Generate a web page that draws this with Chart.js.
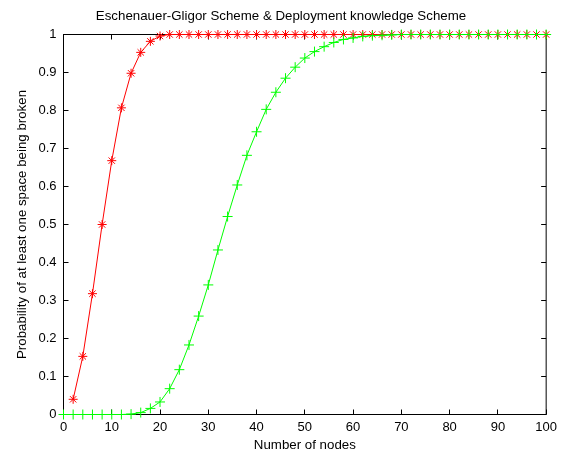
<!DOCTYPE html>
<html>
<head>
<meta charset="utf-8">
<script src="https://cdn.jsdelivr.net/npm/chart.js@4/dist/chart.umd.min.js"></script>
<style>
html,body{margin:0;padding:0;background:#fff;}
#wrap{width:562px;height:453px;}
</style>
</head>
<body>
<div id="wrap"><canvas id="c" width="562" height="453"></canvas></div>
<script>
const titleText = "Eschenauer-Gligor Scheme & Deployment knowledge Scheme";
const xTitle = "Number of nodes";
const yTitle = "Probability of at least one space being broken";

const redNodes = [2,4,6,8,10,12,14,16,18,20,22,24,26,28,30,32,34,36,38,40,42,44,46,48,50,52,54,56,58,60,62,64,66,68,70,72,74,76,78,80,82,84,86,88,90,92,94,96,98,100];
const redProb = [0.04,0.153,0.318,0.5,0.668,0.807,0.898,0.953,0.982,0.996,1,1,1,1,1,1,1,1,1,1,1,1,1,1,1,1,1,1,1,1,1,1,1,1,1,1,1,1,1,1,1,1,1,1,1,1,1,1,1,1];

const greenNodes = [0,2,4,6,8,10,12,14,16,18,20,22,24,26,28,30,32,34,36,38,40,42,44,46,48,50,52,54,56,58,60,62,64,66,68,70,72,74,76,78,80,82,84,86,88,90,92,94,96,98,100];
const greenProb = [0,0,0,0,0,0,0,0.001,0.005,0.016,0.033,0.068,0.118,0.183,0.259,0.341,0.433,0.521,0.604,0.682,0.744,0.803,0.848,0.885,0.914,0.938,0.955,0.968,0.979,0.987,0.991,0.995,0.997,0.998,0.999,1,1,1,1,1,1,1,1,1,1,1,1,1,1,1,1];

const xTicks = [0,10,20,30,40,50,60,70,80,90,100];
const yTicks = [0,0.1,0.2,0.3,0.4,0.5,0.6,0.7,0.8,0.9,1];

const FONT = "'Liberation Sans', Arial, sans-serif";
const FS = 13.3;

const boxPlugin = {
  id: 'box',
  beforeDatasetsDraw(chart) {
    const {ctx, chartArea: a, scales} = chart;
    ctx.save();
    ctx.strokeStyle = '#000';
    ctx.lineWidth = 1;
    ctx.beginPath();
    const L = 5;
    xTicks.forEach(v => {
      const px = Math.floor(scales.x.getPixelForValue(v)) + 0.5;
      ctx.moveTo(px, a.bottom); ctx.lineTo(px, a.bottom - L);
      ctx.moveTo(px, a.top); ctx.lineTo(px, a.top + L);
    });
    yTicks.forEach(v => {
      const py = Math.floor(scales.y.getPixelForValue(v)) + 0.5;
      ctx.moveTo(a.left, py); ctx.lineTo(a.left + L, py);
      ctx.moveTo(a.right, py); ctx.lineTo(a.right - L, py);
    });
    ctx.stroke();
    ctx.strokeRect(a.left, a.top, a.right - a.left, a.bottom - a.top);
    ctx.restore();
  }
};

new Chart(document.getElementById('c'), {
  type: 'line',
  data: {
    datasets: [
      {
        label: 'Eschenauer-Gligor',
        data: redNodes.map((n, i) => ({x: n, y: redProb[i]})),
        order: 1,
        borderColor: '#ff0000',
        backgroundColor: '#ff0000',
        borderWidth: 1,
        pointStyle: 'star',
        pointRadius: 4.5,
        pointBorderWidth: 1,
        pointBorderColor: '#ff0000',
        tension: 0,
        clip: false
      },
      {
        label: 'Deployment knowledge',
        data: greenNodes.map((n, i) => ({x: n, y: greenProb[i]})),
        order: 0,
        borderColor: '#00ff00',
        backgroundColor: '#00ff00',
        borderWidth: 1,
        pointStyle: 'cross',
        pointRadius: 5,
        pointBorderWidth: 1,
        pointBorderColor: '#00ff00',
        tension: 0,
        clip: false
      }
    ]
  },
  options: {
    responsive: false,
    animation: false,
    layout: {padding: {left: 0, right: 0, top: 0, bottom: 0}},
    plugins: {
      legend: {display: false},
      tooltip: {enabled: false},
      title: {
        display: true,
        text: titleText,
        color: '#000',
        font: {family: FONT, size: FS, weight: 'normal', lineHeight: '16px'},
        padding: {top: 8, bottom: 10.5}
      }
    },
    scales: {
      x: {
        type: 'linear',
        min: 0, max: 100,
        afterBuildTicks: s => { s.ticks = xTicks.map(v => ({value: v})); },
        afterFit: s => { s.height = 38.5; },
        grid: {display: false, drawTicks: false},
        border: {display: false},
        ticks: {color: '#000', padding: 5, maxRotation: 0, font: {family: FONT, size: 13}},
        title: {display: true, text: xTitle, color: '#000', font: {family: FONT, size: FS}, padding: {top: 0, bottom: 0}}
      },
      y: {
        type: 'linear',
        min: 0, max: 1,
        afterBuildTicks: s => { s.ticks = yTicks.map(v => ({value: v})); },
        afterFit: s => { s.width = 63.5; },
        grid: {display: false, drawTicks: false},
        border: {display: false},
        ticks: {color: '#000', padding: 7, font: {family: FONT, size: 13},
          callback: v => String(Math.round(v * 10) / 10)},
        title: {display: true, text: yTitle, color: '#000', font: {family: FONT, size: FS}, padding: {top: 14.5, bottom: 0}}
      },
      yr: {
        type: 'linear',
        position: 'right',
        min: 0, max: 1,
        afterFit: s => { s.width = 14.5; },
        grid: {display: false, drawTicks: false},
        border: {display: false},
        ticks: {display: false}
      }
    }
  },
  plugins: [boxPlugin]
});
</script>
</body>
</html>
